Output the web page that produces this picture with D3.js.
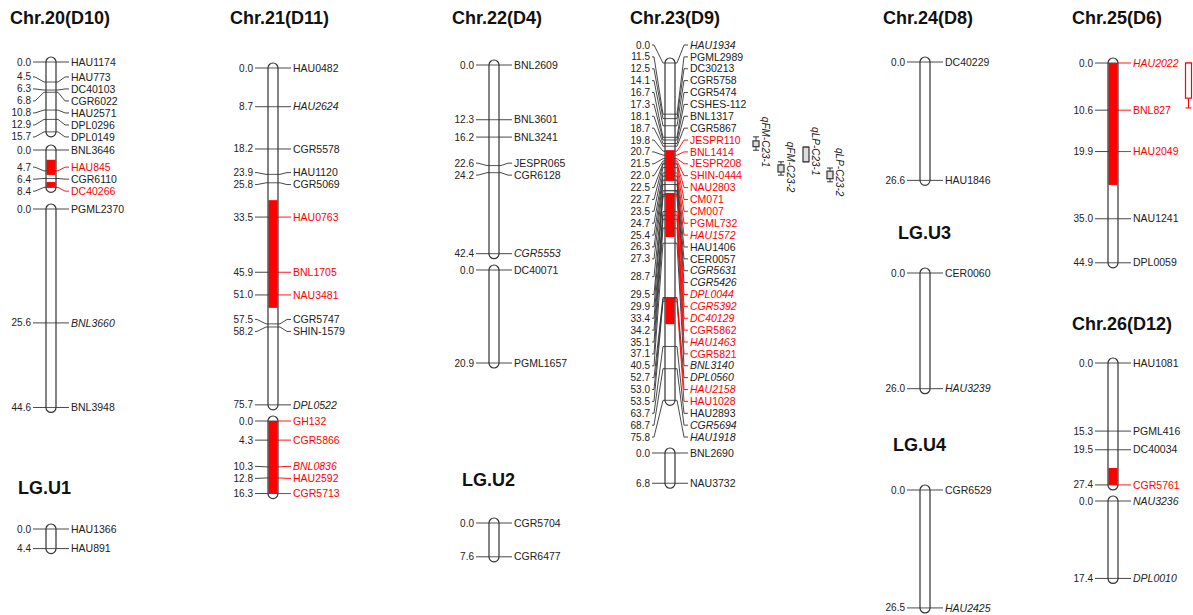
<!DOCTYPE html>
<html>
<head>
<meta charset="utf-8">
<script src="https://cdn.jsdelivr.net/npm/d3@7"></script>
<style>
  body { margin: 0; background: #fff; }
  text { font-family: "Liberation Sans", Arial, sans-serif; }
</style>
</head>
<body>
<script>
// ---- data (cM positions, marker names) ----
var chr20aNames = ["HAU1174", "HAU773", "DC40103", "CGR6022", "HAU2571", "DPL0296", "DPL0149"];
var chr20aCM = [0.0, 4.5, 6.3, 6.8, 10.8, 12.9, 15.7];
var chr20bNames = ["BNL3646", "HAU845", "CGR6110", "DC40266"];
var chr20bCM = [0.0, 4.7, 6.4, 8.4];
var chr20bRed = [[2.2, 5.6], [7.2, 8.4]];
var chr20cNames = ["PGML2370", "BNL3660", "BNL3948"];
var chr20cCM = [0.0, 25.6, 44.6];
var lgU1Names = ["HAU1366", "HAU891"];
var lgU1CM = [0.0, 4.4];

var chr21aNames = ["HAU0482", "HAU2624", "CGR5578", "HAU1120", "CGR5069", "HAU0763", "BNL1705", "NAU3481", "CGR5747", "SHIN-1579", "DPL0522"];
var chr21aCM = [0.0, 8.7, 18.2, 23.9, 25.8, 33.5, 45.9, 51.0, 57.5, 58.2, 75.7];
var chr21aRed = [[29.7, 53.9]];
var chr21bNames = ["GH132", "CGR5866", "BNL0836", "HAU2592", "CGR5713"];
var chr21bCM = [0.0, 4.3, 10.3, 12.8, 16.3];
var chr21bRed = [[0.0, 16.3]];

var chr22aNames = ["BNL2609", "BNL3601", "BNL3241", "JESPR065", "CGR6128", "CGR5553"];
var chr22aCM = [0.0, 12.3, 16.2, 22.6, 24.2, 42.4];
var chr22bNames = ["DC40071", "PGML1657"];
var chr22bCM = [0.0, 20.9];
var lgU2Names = ["CGR5704", "CGR6477"];
var lgU2CM = [0.0, 7.6];

var chr23aNames = ["HAU1934", "PGML2989", "DC30213", "CGR5758", "CGR5474", "CSHES-112", "BNL1317", "CGR5867",
  "JESPR110", "BNL1414", "JESPR208", "SHIN-0444", "NAU2803", "CM071", "CM007", "PGML732", "HAU1572",
  "HAU1406", "CER0057", "CGR5631", "CGR5426", "DPL0044", "CGR5392", "DC40129", "CGR5862", "HAU1463", "CGR5821",
  "BNL3140", "DPL0560", "HAU2158", "HAU1028", "HAU2893", "CGR5694", "HAU1918"];
var chr23aCM = [0.0, 11.5, 12.5, 14.1, 16.7, 17.3, 18.1, 18.7,
  19.8, 20.7, 21.5, 22.0, 22.5, 22.7, 23.5, 24.7, 25.4,
  26.3, 27.3, 28.7, 28.7, 29.5, 29.9, 33.4, 34.2, 35.1, 37.1,
  40.5, 52.7, 53.0, 53.5, 63.7, 68.7, 75.8];
var chr23aRed = [[19.6, 26.5], [29.2, 39.1], [52.8, 58.7]];
var chr23bNames = ["BNL2690", "NAU3732"];
var chr23bCM = [0.0, 6.8];

var chr24Names = ["DC40229", "HAU1846"];
var chr24CM = [0.0, 26.6];
var lgU3Names = ["CER0060", "HAU3239"];
var lgU3CM = [0.0, 26.0];
var lgU4Names = ["CGR6529", "HAU2425"];
var lgU4CM = [0.0, 26.5];

var chr25Names = ["HAU2022", "BNL827", "HAU2049", "NAU1241", "DPL0059"];
var chr25CM = [0.0, 10.6, 19.9, 35.0, 44.9];
var chr25Red = [[0.0, 27.4]];
var chr26aNames = ["HAU1081", "PGML416", "DC40034", "CGR5761"];
var chr26aCM = [0.0, 15.3, 19.5, 27.4];
var chr26aRed = [[23.6, 27.4]];
var chr26bNames = ["NAU3236", "DPL0010"];
var chr26bCM = [0.0, 17.4];

var redMarkers = ["HAU845", "DC40266", "HAU0763", "BNL1705", "NAU3481", "GH132", "CGR5866", "BNL0836", "HAU2592", "CGR5713",
  "JESPR110", "BNL1414", "JESPR208", "SHIN-0444", "NAU2803", "CM071", "CM007", "PGML732", "HAU1572",
  "DPL0044", "CGR5392", "DC40129", "CGR5862", "HAU1463", "CGR5821", "HAU2158", "HAU1028",
  "HAU2022", "BNL827", "HAU2049", "CGR5761"];
var italicMarkers = ["BNL3660", "HAU2624", "DPL0522", "BNL0836", "CGR5553", "HAU1934", "HAU1572", "CGR5631", "CGR5426",
  "DPL0044", "CGR5392", "DC40129", "HAU1463", "BNL3140", "DPL0560", "HAU2158", "CGR5694", "HAU1918",
  "HAU3239", "HAU2425", "HAU2022", "NAU3236", "DPL0010"];

// QTL intervals on Chr.23 (box = inner interval, whisker = outer interval, cM)
var qtlNames = ["qFM-C23-1", "qFM-C23-2", "qLP-C23-1", "qLP-C23-2"];
var qtlBox = [[17.5, 18.8], [22.9, 24.5], [18.9, 22.2], [24.3, 26.0]];
var qtlWhisker = [[16.6, 19.6], [22.2, 25.2], [18.9, 22.2], [23.6, 26.7]];
var chr25QtlBox = [0.0, 7.9];
var chr25QtlWhisker = [0.0, 10.1];

var titles = ["Chr.20(D10)", "Chr.21(D11)", "Chr.22(D4)", "Chr.23(D9)", "Chr.24(D8)", "Chr.25(D6)", "Chr.26(D12)",
  "LG.U1", "LG.U2", "LG.U3", "LG.U4"];

// ---- drawing ----
var PX = 4.45;   // pixels per cM
var RED = "#ff0000";
var INK = "#222";

var svg = d3.select("body").append("svg")
    .attr("width", 1193)
    .attr("height", 615);

var titlePos = [[10, 24], [230, 24], [452, 24], [630, 24], [883, 24], [1072, 24], [1072, 330],
  [18, 494], [462, 486], [898, 239], [893, 451]];

svg.selectAll("text.title")
  .data(titles)
  .join("text")
    .attr("class", "title")
    .attr("x", function(d, i) { return titlePos[i][0]; })
    .attr("y", function(d, i) { return titlePos[i][1]; })
    .attr("font-size", 18)
    .attr("font-weight", "bold")
    .attr("fill", "#111")
    .text(function(d) { return d; });

// push apart label positions so they don't overlap
function spread(ys, gap, minTop) {
  var cl = ys.map(function(y, i) { return {lo: y, hi: y, n: 1, start: i}; });
  function top(c) { return Math.max(minTop, (c.lo + c.hi) / 2 - (c.n - 1) * gap / 2); }
  var changed = true;
  while (changed) {
    changed = false;
    for (var i = 0; i < cl.length - 1; i++) {
      var a = cl[i], b = cl[i + 1];
      if (top(b) - (top(a) + (a.n - 1) * gap) < gap - 0.01) {
        a.hi = b.hi; a.n += b.n;
        cl.splice(i + 1, 1);
        changed = true;
        break;
      }
    }
  }
  var out = [];
  cl.forEach(function(c) {
    for (var k = 0; k < c.n; k++) out.push(top(c) + k * gap);
  });
  return out;
}

function drawSegment(seg) {
  var len = d3.max(seg.cm);
  var y = d3.scaleLinear().domain([0, len]).range([seg.y0, seg.y0 + len * PX]);
  var g = svg.append("g");
  var bl = seg.x - 5, br = seg.x + 5;
  var gap = seg.gap || 12;
  var my = seg.cm.map(y);
  var ly = spread(my, gap, seg.y0 - 18);

  g.append("rect")
    .attr("x", bl).attr("y", y(0) - 5)
    .attr("width", 10).attr("height", y(len) - y(0) + 10)
    .attr("rx", 5)
    .attr("fill", "#fff");

  g.selectAll("line.cross").data(my).join("line")
    .attr("x1", bl).attr("x2", br)
    .attr("y1", function(d) { return d; }).attr("y2", function(d) { return d; })
    .attr("stroke", "#444").attr("stroke-width", 0.9);

  g.selectAll("rect.red").data(seg.red || []).join("rect")
    .attr("x", bl + 0.5).attr("width", 9)
    .attr("y", function(d) { return y(d[0]); })
    .attr("height", function(d) { return y(d[1]) - y(d[0]); })
    .attr("fill", RED);

  g.append("rect")
    .attr("x", bl).attr("y", y(0) - 5)
    .attr("width", 10).attr("height", y(len) - y(0) + 10)
    .attr("rx", 5)
    .attr("fill", "none")
    .attr("stroke", "#333").attr("stroke-width", 1.2);

  var numRight = seg.x - 21, labLeft = seg.x + 20;

  // right side: marker names
  seg.names.forEach(function(name, i) {
    var isRed = redMarkers.indexOf(name) >= 0;
    g.append("polyline")
      .attr("points", [[br, my[i]], [br + 2, my[i]], [labLeft - 6, ly[i]], [labLeft - 2, ly[i]]].join(" "))
      .attr("fill", "none")
      .attr("stroke", isRed ? RED : "#333").attr("stroke-width", 0.9);
    g.append("text")
      .attr("x", labLeft).attr("y", ly[i])
      .attr("dy", "0.35em")
      .attr("font-size", 10.5)
      .attr("font-style", italicMarkers.indexOf(name) >= 0 ? "italic" : "normal")
      .attr("fill", isRed ? RED : INK)
      .text(name);
  });

  // left side: cM values (identical values share one number)
  var groups = [];
  seg.cm.forEach(function(v, i) {
    var last = groups[groups.length - 1];
    if (last && last.v === v) last.idx.push(i);
    else groups.push({v: v, idx: [i]});
  });
  groups.forEach(function(gr) {
    var yy = d3.mean(gr.idx, function(i) { return ly[i]; });
    var m = my[gr.idx[0]];
    g.append("polyline")
      .attr("points", [[numRight + 3, yy], [numRight + 5, yy], [bl - 2, m], [bl, m]].join(" "))
      .attr("fill", "none")
      .attr("stroke", "#333").attr("stroke-width", 0.9);
    g.append("text")
      .attr("x", numRight + 1).attr("y", yy)
      .attr("dy", "0.35em")
      .attr("text-anchor", "end")
      .attr("font-size", 10)
      .attr("fill", INK)
      .text(d3.format(".1f")(gr.v));
  });

  return y;
}

var segs = [
  {names: chr20aNames, cm: chr20aCM, x: 51, y0: 62},
  {names: chr20bNames, cm: chr20bCM, x: 51, y0: 150, red: chr20bRed},
  {names: chr20cNames, cm: chr20cCM, x: 51, y0: 209},
  {names: lgU1Names, cm: lgU1CM, x: 51, y0: 529},
  {names: chr21aNames, cm: chr21aCM, x: 273, y0: 68, red: chr21aRed},
  {names: chr21bNames, cm: chr21bCM, x: 273, y0: 421, red: chr21bRed},
  {names: chr22aNames, cm: chr22aCM, x: 494, y0: 65},
  {names: chr22bNames, cm: chr22bCM, x: 494, y0: 270},
  {names: lgU2Names, cm: lgU2CM, x: 494, y0: 523},
  {names: chr23aNames, cm: chr23aCM, x: 670, y0: 63, red: chr23aRed, gap: 11.88},
  {names: chr23bNames, cm: chr23bCM, x: 670, y0: 453},
  {names: chr24Names, cm: chr24CM, x: 925, y0: 62},
  {names: lgU3Names, cm: lgU3CM, x: 925, y0: 273},
  {names: lgU4Names, cm: lgU4CM, x: 925, y0: 490},
  {names: chr25Names, cm: chr25CM, x: 1113, y0: 63, red: chr25Red},
  {names: chr26aNames, cm: chr26aCM, x: 1113, y0: 363, red: chr26aRed},
  {names: chr26bNames, cm: chr26bCM, x: 1113, y0: 501}
];

var scales = segs.map(drawSegment);
var y23 = scales[9], y25 = scales[14];

// QTL interval symbols
function drawQtl(y, cx, box, whisk, color, fill) {
  var g = svg.append("g");
  g.append("line")
    .attr("x1", cx).attr("x2", cx)
    .attr("y1", y(whisk[0])).attr("y2", y(whisk[1]))
    .attr("stroke", color).attr("stroke-width", 1);
  [whisk[0], whisk[1]].forEach(function(v) {
    g.append("line")
      .attr("x1", cx - 3).attr("x2", cx + 3)
      .attr("y1", y(v)).attr("y2", y(v))
      .attr("stroke", color).attr("stroke-width", 1);
  });
  g.append("rect")
    .attr("x", cx - 3).attr("width", 6)
    .attr("y", y(box[0])).attr("height", y(box[1]) - y(box[0]))
    .attr("fill", fill)
    .attr("stroke", color).attr("stroke-width", 1.2);
}

var qtlX = [756, 781, 806, 830];
qtlNames.forEach(function(name, i) {
  drawQtl(y23, qtlX[i], qtlBox[i], qtlWhisker[i], "#333", "#ddd");
  var top = y23(qtlWhisker[i][0]) - 20;
  svg.append("text")
    .attr("transform", "translate(" + (qtlX[i] + 6) + "," + top + ") rotate(90)")
    .attr("font-size", 10)
    .attr("font-style", "italic")
    .attr("fill", INK)
    .text(name);
});

drawQtl(y25, 1188.5, chr25QtlBox, chr25QtlWhisker, RED, "#fff");
</script>
</body>
</html>
